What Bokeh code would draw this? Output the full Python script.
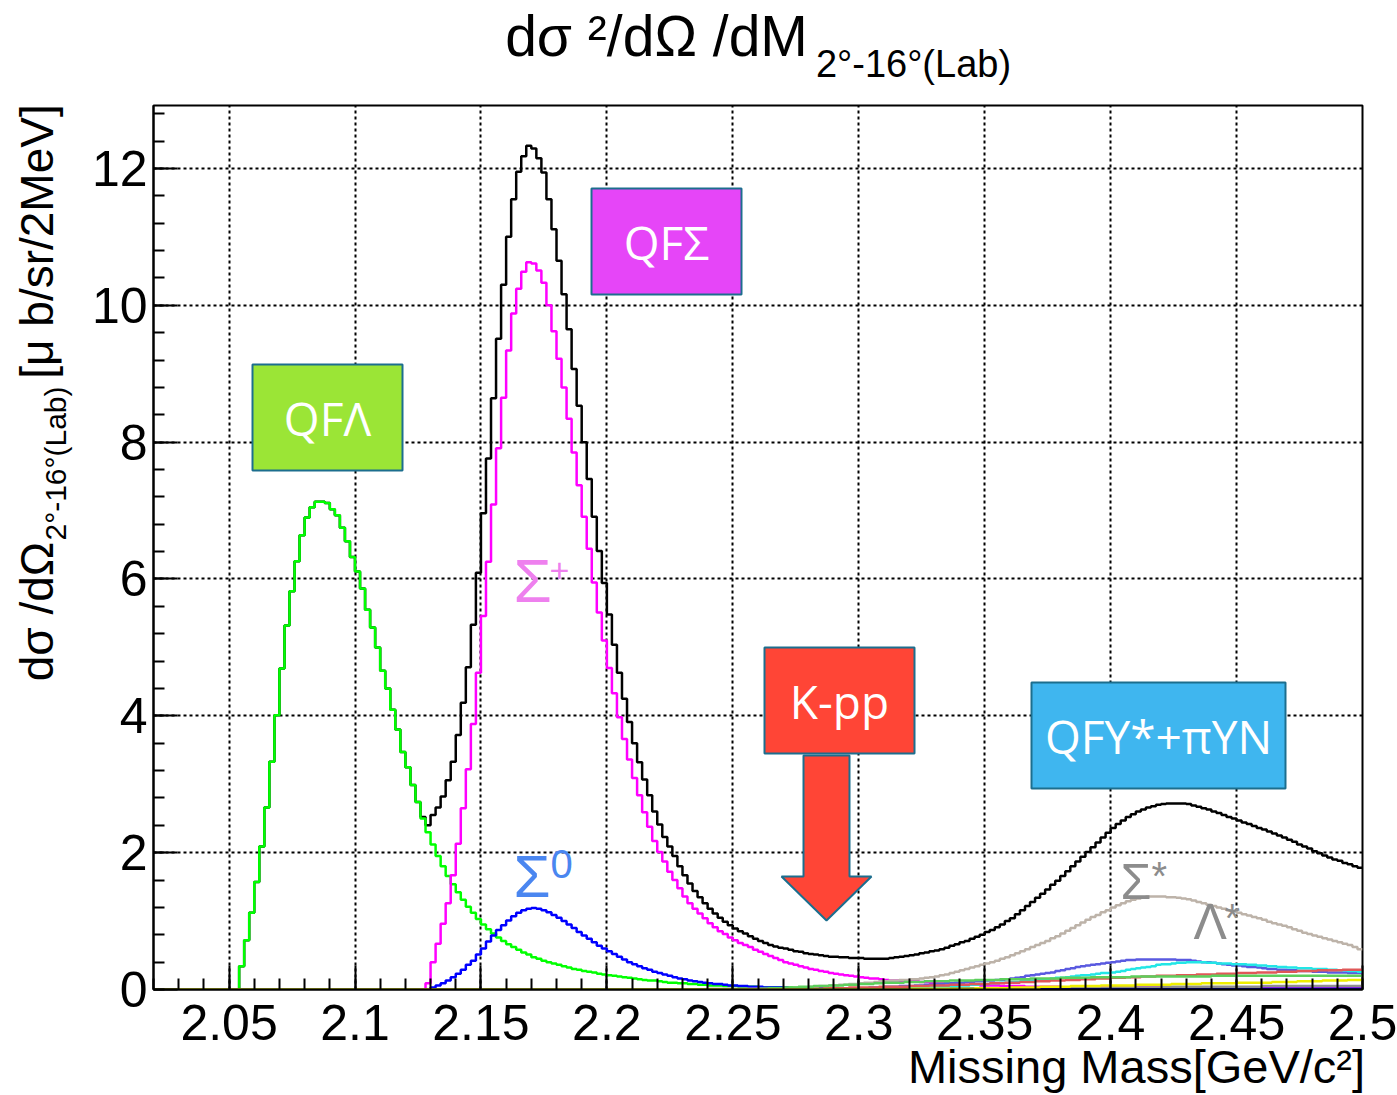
import numpy as np
from bokeh.plotting import figure
from bokeh.models import (Label, Range1d, FixedTicker, BoxAnnotation, NumeralTickFormatter,
                          LinearAxis, CustomJSTickFormatter)
from bokeh.embed import file_html
from bokeh.resources import INLINE

# ---------------- data (2 MeV bins from 2.020 to 2.500 GeV/c^2) ----------------
x_lo, x_hi, bin_w, n_bins = 2.02, 2.50, 0.002, 240
y_lo, y_hi = 0.0, 12.92

x_major = [2.05, 2.1, 2.15, 2.2, 2.25, 2.3, 2.35, 2.4, 2.45, 2.5]
y_major = [0, 2, 4, 6, 8, 10, 12]

total = ([0.0] * 10 +
         [0, 0, 0, 0, 0, 0, 0, 0.34, 0.72, 1.12] +
         [1.57, 2.09, 2.66, 3.33, 4.01, 4.69, 5.32, 5.82, 6.26, 6.64] +
         [6.90, 7.05, 7.13, 7.13, 7.11, 7.02, 6.93, 6.75, 6.55, 6.32] +
         [6.11, 5.86, 5.55, 5.29, 5.00, 4.66, 4.40, 4.09, 3.80, 3.47] +
         [3.25, 2.99, 2.74, 2.52, 2.40, 2.55, 2.66, 2.82, 3.06, 3.33] +
         [3.72, 4.19, 4.71, 5.33, 6.09, 6.96, 7.76, 8.64, 9.51, 10.30] +
         [11.00, 11.55, 11.95, 12.18, 12.33, 12.29, 12.15, 11.94, 11.55, 11.11] +
         [10.65, 10.16, 9.65, 9.07, 8.53, 8.00, 7.46, 6.91, 6.41, 5.94] +
         [5.48, 5.04, 4.63, 4.25, 3.91, 3.60, 3.32, 3.07, 2.84, 2.60] +
         [2.41, 2.23, 2.09, 1.95, 1.80, 1.67, 1.55, 1.44, 1.35, 1.26] +
         [1.18, 1.11, 1.05, 0.99, 0.94, 0.89, 0.85, 0.82, 0.78, 0.74] +
         [0.71, 0.68, 0.65, 0.63, 0.61, 0.60, 0.58, 0.56, 0.55, 0.53] +
         [0.52, 0.51, 0.50, 0.49, 0.48, 0.48, 0.47, 0.47, 0.46, 0.46] +
         [0.46, 0.45, 0.45, 0.45, 0.45, 0.45, 0.46, 0.47, 0.48, 0.49] +
         [0.50, 0.51, 0.53, 0.54, 0.56, 0.57, 0.59, 0.61, 0.64, 0.66] +
         [0.69, 0.71, 0.74, 0.77, 0.80, 0.84, 0.87, 0.91, 0.95, 1.00] +
         [1.04, 1.10, 1.16, 1.22, 1.28, 1.34, 1.40, 1.46, 1.53, 1.59] +
         [1.66, 1.73, 1.80, 1.87, 1.94, 2.01, 2.08, 2.15, 2.22, 2.29] +
         [2.36, 2.42, 2.47, 2.52, 2.56, 2.60, 2.63, 2.66, 2.68, 2.70] +
         [2.71, 2.72, 2.72, 2.72, 2.72, 2.71, 2.69, 2.67, 2.65, 2.63] +
         [2.60, 2.58, 2.55, 2.52, 2.50, 2.47, 2.44, 2.42, 2.39, 2.36] +
         [2.34, 2.31, 2.28, 2.25, 2.22, 2.19, 2.16, 2.12, 2.09, 2.06] +
         [2.02, 1.99, 1.96, 1.93, 1.90, 1.88, 1.85, 1.83, 1.80, 1.78])

qf_lambda = ([0.0] * 10 +
             [0, 0, 0, 0, 0, 0, 0, 0.34, 0.72, 1.12] +
             [1.57, 2.09, 2.66, 3.33, 4.01, 4.69, 5.32, 5.82, 6.26, 6.64] +
             [6.90, 7.05, 7.13, 7.13, 7.11, 7.02, 6.93, 6.75, 6.55, 6.32] +
             [6.11, 5.86, 5.55, 5.29, 5.00, 4.66, 4.40, 4.09, 3.80, 3.47] +
             [3.25, 2.99, 2.74, 2.50, 2.30, 2.12, 1.95, 1.80, 1.66, 1.54] +
             [1.42, 1.31, 1.21, 1.12, 1.03, 0.95, 0.88, 0.82, 0.76, 0.71] +
             [0.66, 0.62, 0.58, 0.54, 0.51, 0.47, 0.45, 0.42, 0.40, 0.38] +
             [0.36, 0.34, 0.32, 0.30, 0.29, 0.27, 0.26, 0.25, 0.23, 0.22] +
             [0.21, 0.20, 0.19, 0.18, 0.17, 0.16, 0.15, 0.14, 0.13, 0.13] +
             [0.12, 0.11, 0.10, 0.10, 0.09, 0.09, 0.08, 0.08, 0.07, 0.07] +
             [0.06, 0.06, 0.06, 0.05, 0.05, 0.05, 0.04, 0.04, 0.04, 0.04] +
             [0.03] * 10 + [0.02] * 20 + [0.01] * 90)

sigma_plus = ([0.0] * 50 +
              [0, 0, 0, 0, 0.09, 0.40, 0.67, 0.96, 1.26, 1.67] +
              [2.13, 2.65, 3.22, 3.88, 4.63, 5.46, 6.25, 7.09, 7.91, 8.65] +
              [9.34, 9.88, 10.24, 10.49, 10.63, 10.61, 10.51, 10.33, 10.00, 9.62] +
              [9.22, 8.80, 8.34, 7.85, 7.37, 6.91, 6.44, 5.95, 5.51, 5.10] +
              [4.70, 4.33, 3.98, 3.66, 3.36, 3.09, 2.84, 2.59, 2.38, 2.17] +
              [2.01, 1.87, 1.72, 1.60, 1.48, 1.36, 1.26, 1.18, 1.11, 1.04] +
              [0.97, 0.91, 0.85, 0.81, 0.76, 0.72, 0.68, 0.65, 0.62, 0.58] +
              [0.55, 0.52, 0.49, 0.46, 0.43, 0.40, 0.38, 0.36, 0.34, 0.32] +
              [0.30, 0.29, 0.27, 0.26, 0.24, 0.23, 0.22, 0.21, 0.20, 0.19] +
              [0.18, 0.17, 0.16, 0.16, 0.15, 0.14, 0.13, 0.13, 0.12, 0.12] +
              [0.12, 0.12, 0.11, 0.11, 0.10, 0.10, 0.09, 0.09, 0.08, 0.08] +
              [0.08, 0.07, 0.07, 0.07, 0.06, 0.06, 0.06, 0.06, 0.05, 0.05] +
              [0.05, 0.05, 0.05, 0.04, 0.04, 0.04, 0.04, 0.04, 0.04, 0.04] +
              [0.03] * 20 + [0.02] * 40)

sigma_zero = ([0.0] * 50 +
              [0, 0, 0, 0, 0, 0.03, 0.06, 0.09, 0.13, 0.18] +
              [0.23, 0.29, 0.36, 0.42, 0.51, 0.60, 0.70, 0.79, 0.87, 0.94] +
              [1.01, 1.07, 1.12, 1.16, 1.18, 1.19, 1.18, 1.16, 1.13, 1.09] +
              [1.05, 1.00, 0.95, 0.90, 0.84, 0.79, 0.74, 0.69, 0.64, 0.60] +
              [0.56, 0.52, 0.48, 0.44, 0.40, 0.37, 0.34, 0.31, 0.29, 0.26] +
              [0.24, 0.22, 0.20, 0.18, 0.16, 0.15, 0.13, 0.12, 0.11, 0.10] +
              [0.09, 0.08, 0.08, 0.07, 0.06, 0.06, 0.05, 0.05, 0.04, 0.04] +
              [0.04, 0.03, 0.03, 0.03, 0.03, 0.03, 0.02, 0.02, 0.02, 0.02] +
              [0.02] * 10 + [0.01] * 100)

sigma_lambda_star = ([0.0] * 110 + [0.01] * 10 +
                     [0.01, 0.01, 0.01, 0.01, 0.01, 0.02, 0.02, 0.03, 0.03, 0.03] +
                     [0.04, 0.04, 0.05, 0.05, 0.06, 0.06, 0.07, 0.07, 0.08, 0.08] +
                     [0.09, 0.10, 0.10, 0.11, 0.12, 0.12, 0.13, 0.13, 0.14, 0.14] +
                     [0.15, 0.15, 0.16, 0.17, 0.18, 0.19, 0.21, 0.22, 0.24, 0.26] +
                     [0.28, 0.30, 0.32, 0.34, 0.36, 0.38, 0.40, 0.42, 0.45, 0.47] +
                     [0.50, 0.53, 0.56, 0.59, 0.62, 0.65, 0.68, 0.71, 0.75, 0.78] +
                     [0.82, 0.86, 0.90, 0.94, 0.98, 1.02, 1.06, 1.09, 1.13, 1.16] +
                     [1.20, 1.23, 1.26, 1.29, 1.31, 1.33, 1.35, 1.36, 1.36, 1.36] +
                     [1.36, 1.35, 1.35, 1.34, 1.33, 1.32, 1.30, 1.28, 1.26, 1.24] +
                     [1.22, 1.20, 1.18, 1.16, 1.14, 1.12, 1.10, 1.08, 1.06, 1.04] +
                     [1.02, 0.99, 0.97, 0.95, 0.93, 0.91, 0.88, 0.86, 0.83, 0.81] +
                     [0.79, 0.77, 0.75, 0.73, 0.71, 0.69, 0.67, 0.65, 0.62, 0.59])

pi_yn_violet = ([0.0] * 140 +
                [0.02, 0.02, 0.03, 0.03, 0.03, 0.04, 0.04, 0.04, 0.05, 0.05] +
                [0.05, 0.06, 0.06, 0.07, 0.07, 0.08, 0.08, 0.09, 0.09, 0.10] +
                [0.10, 0.11, 0.11, 0.12, 0.12, 0.13, 0.13, 0.14, 0.14, 0.15] +
                [0.16, 0.17, 0.18, 0.20, 0.21, 0.22, 0.23, 0.24, 0.25, 0.27] +
                [0.28, 0.30, 0.31, 0.33, 0.34, 0.35, 0.36, 0.37, 0.38, 0.39] +
                [0.40, 0.41, 0.42, 0.43, 0.43, 0.44, 0.44, 0.44, 0.44, 0.44] +
                [0.44, 0.44, 0.44, 0.43, 0.43, 0.43, 0.42, 0.41, 0.40, 0.40] +
                [0.39, 0.38, 0.37, 0.36, 0.35, 0.35, 0.34, 0.33, 0.33, 0.32] +
                [0.31, 0.30, 0.30, 0.29, 0.29, 0.28, 0.28, 0.27, 0.27, 0.27] +
                [0.26, 0.26, 0.26, 0.25, 0.25, 0.25, 0.25, 0.24, 0.24, 0.24])

pi_yn_cyan = ([0.0] * 150 +
              [0.02, 0.02, 0.03, 0.03, 0.03, 0.04, 0.04, 0.04, 0.05, 0.05] +
              [0.06, 0.06, 0.07, 0.07, 0.08, 0.08, 0.09, 0.09, 0.10, 0.10] +
              [0.11, 0.11, 0.12, 0.12, 0.13, 0.14, 0.14, 0.15, 0.16, 0.17] +
              [0.17, 0.18, 0.19, 0.20, 0.21, 0.21, 0.22, 0.23, 0.24, 0.24] +
              [0.25, 0.26, 0.27, 0.29, 0.30, 0.31, 0.32, 0.33, 0.34, 0.36] +
              [0.37, 0.37, 0.38, 0.39, 0.39, 0.40, 0.40, 0.40, 0.40, 0.39] +
              [0.39, 0.38, 0.38, 0.38, 0.37, 0.37, 0.37, 0.36, 0.36, 0.35] +
              [0.35, 0.34, 0.34, 0.33, 0.33, 0.32, 0.32, 0.31, 0.31, 0.31] +
              [0.30, 0.30, 0.30, 0.29, 0.29, 0.28, 0.28, 0.27, 0.27, 0.26])

pi_yn_red = ([0.0] * 130 +
             [0.01, 0.01, 0.01, 0.02, 0.02, 0.02, 0.02, 0.02, 0.03, 0.03] +
             [0.03, 0.03, 0.03, 0.03, 0.04, 0.04, 0.04, 0.04, 0.04, 0.04] +
             [0.05, 0.05, 0.05, 0.05, 0.06, 0.06, 0.06, 0.06, 0.07, 0.07] +
             [0.07, 0.07, 0.08, 0.08, 0.08, 0.08, 0.09, 0.09, 0.09, 0.10] +
             [0.10, 0.10, 0.11, 0.11, 0.11, 0.12, 0.12, 0.12, 0.13, 0.13] +
             [0.13, 0.14, 0.14, 0.14, 0.15, 0.15, 0.15, 0.16, 0.16, 0.16] +
             [0.17, 0.17, 0.17, 0.18, 0.18, 0.18, 0.19, 0.19, 0.19, 0.20] +
             [0.20, 0.20, 0.20, 0.21, 0.21, 0.21, 0.21, 0.22, 0.22, 0.22] +
             [0.22, 0.23, 0.23, 0.23, 0.23, 0.24, 0.24, 0.24, 0.24, 0.25] +
             [0.25, 0.25, 0.25, 0.26, 0.26, 0.26, 0.26, 0.27, 0.27, 0.27] +
             [0.27, 0.28, 0.28, 0.28, 0.28, 0.28, 0.29, 0.29, 0.29, 0.29])

pi_yn_green = ([0.0] * 120 +
               [0.01, 0.01, 0.02, 0.02, 0.02, 0.03, 0.03, 0.03, 0.04, 0.04] +
               [0.04, 0.05, 0.05, 0.05, 0.06, 0.06, 0.06, 0.07, 0.07, 0.07] +
               [0.08, 0.08, 0.08, 0.09, 0.09, 0.10, 0.10, 0.10, 0.10, 0.11] +
               [0.11, 0.11, 0.11, 0.12, 0.12, 0.12, 0.12, 0.12, 0.13, 0.13] +
               [0.13, 0.13, 0.13, 0.14, 0.14, 0.14, 0.14, 0.14, 0.15, 0.15] +
               [0.15, 0.15, 0.15, 0.15, 0.16, 0.16, 0.16, 0.16, 0.16, 0.16] +
               [0.17, 0.17, 0.17, 0.17, 0.17, 0.17, 0.18, 0.18, 0.18, 0.18] +
               [0.18, 0.18, 0.18, 0.18, 0.19, 0.19, 0.19, 0.19, 0.19, 0.19] +
               [0.19] * 10 + [0.20] * 30)

pi_yn_gray = [0.0] * 170 + [0.01] * 10 + [0.02] * 10 + [0.03] * 10 + [0.04] * 20 + [0.05] * 20

pi_yn_navy = [0.0] * 150 + [0.005] * 90

pi_yn_yellow = ([0.0] * 150 + [0.01] * 10 +
                [0.01, 0.01, 0.01, 0.02, 0.02, 0.02, 0.02, 0.02, 0.02, 0.02] +
                [0.03, 0.03, 0.03, 0.03, 0.03, 0.03, 0.04, 0.04, 0.04, 0.04] +
                [0.04, 0.04, 0.05, 0.05, 0.05, 0.05, 0.05, 0.05, 0.06, 0.06] +
                [0.06, 0.06, 0.06, 0.06, 0.06, 0.07, 0.07, 0.07, 0.07, 0.07] +
                [0.07, 0.07, 0.08, 0.08, 0.08, 0.08, 0.08, 0.08, 0.09, 0.09] +
                [0.09, 0.09, 0.09, 0.09, 0.09, 0.10, 0.10, 0.10, 0.10, 0.10] +
                [0.10, 0.10, 0.11, 0.11, 0.11, 0.11, 0.11, 0.12, 0.12, 0.12] +
                [0.12, 0.12, 0.13, 0.13, 0.13, 0.13, 0.13, 0.14, 0.14, 0.14])

# draw order and colours
series = [
    (total, "#000000"),
    (qf_lambda, "#00ff00"),
    (sigma_plus, "#ff00ff"),
    (sigma_zero, "#0000ff"),
    (sigma_lambda_star, "#bdb3a9"),
    (pi_yn_violet, "#5a5ae0"),
    (pi_yn_cyan, "#22e6e6"),
    (pi_yn_red, "#e05858"),
    (pi_yn_green, "#5ccf5c"),
    (pi_yn_gray, "#8f8f8f"),
    (pi_yn_navy, "#000090"),
    (pi_yn_yellow, "#eeee00"),
]

# ---------------- layout ----------------
FL, FT, FW, FH = 153, 105, 1209, 884   # frame placement inside the canvas
W, H = 1397, 1095
PX0, PY0 = FL, FT


def px2x(px):
    return x_lo + (px - PX0) / FW * (x_hi - x_lo)


def py2y(py):
    return y_lo + (PY0 + FH - py) / FH * (y_hi - y_lo)


p = figure(width=W, height=H, output_backend="svg", toolbar_location=None, title=None,
           x_range=Range1d(x_lo, x_hi), y_range=Range1d(y_lo, y_hi),
           min_border_left=FL, min_border_top=FT,
           min_border_right=W - FL - FW, min_border_bottom=H - FT - FH)
p.background_fill_color = "white"
p.border_fill_color = "white"
p.outline_line_color = "black"
p.outline_line_width = 2

edges = x_lo + bin_w * np.arange(n_bins + 1)
for vals, col in series:
    yv = list(vals) + [vals[-1]]
    p.step(edges, yv, mode="after", line_color=col, line_width=2.5)

# axes
HF = "Liberation Sans"
xt = FixedTicker(ticks=x_major, minor_ticks=list(np.round(np.arange(x_lo, x_hi + 1e-9, 0.01), 2)))
yt = FixedTicker(ticks=y_major, minor_ticks=list(np.round(np.arange(y_lo, y_hi, 0.4), 1)))
p.xaxis.ticker = xt
p.yaxis.ticker = yt
p.xgrid.ticker = FixedTicker(ticks=x_major)
p.ygrid.ticker = FixedTicker(ticks=y_major)
p.xaxis.formatter = NumeralTickFormatter(format="0.0[0]")
for ax in (p.xaxis[0], p.yaxis[0]):
    ax.major_tick_in = 24
    ax.major_tick_out = 0
    ax.minor_tick_in = 11
    ax.minor_tick_out = 0
    ax.major_tick_line_width = 2
    ax.minor_tick_line_width = 2
    ax.major_tick_line_color = "black"
    ax.minor_tick_line_color = "black"
    ax.axis_line_width = 2
    ax.axis_line_color = "black"
    ax.major_label_text_font = HF
    ax.major_label_text_font_size = "50px"
    ax.major_label_text_color = "black"
    ax.major_label_standoff = 6
p.xaxis[0].major_label_standoff = 15
for g in (p.xgrid[0], p.ygrid[0]):
    g.grid_line_color = "black"
    g.grid_line_dash = "3 3"
    g.grid_line_width = 2


# ---------------- title and axis titles: text-only axes in the side panels ----------------
def text_axis(where, ticks, code, size, standoff, orientation=None):
    ax = LinearAxis(ticker=FixedTicker(ticks=ticks, minor_ticks=[]),
                    formatter=CustomJSTickFormatter(code=code),
                    axis_line_color=None, major_tick_line_color=None, minor_tick_line_color=None,
                    major_tick_in=0, major_tick_out=0, minor_tick_in=0, minor_tick_out=0,
                    major_label_standoff=standoff, major_label_text_font=HF,
                    major_label_text_font_size=size, major_label_text_color="black")
    if orientation is not None:
        ax.major_label_orientation = orientation
    p.add_layout(ax, where)


# title: subscript layer (closest to frame) then main text
text_axis("above", [px2x(913)], 'return "2°-16°(Lab)";', "38px", 21)
text_axis("above", [px2x(656)], 'return "dσ ²/dΩ /dM";', "57px", -28)
# y title: subscript layer then the two main pieces
text_axis("left", [py2y(463)], 'return "2°-16°(Lab)";', "30px", 17, "vertical")
text_axis("left", [py2y(611), py2y(241)],
          'return tick > 8 ? "[μ b/sr/2MeV]" : "dσ /dΩ";', "46px", -27, "vertical")
# x title
text_axis("below", [px2x(1136)], 'return "Missing Mass[GeV/c²]";', "47px", -3)

# ---------------- boxes ----------------
BORDER = "#1c6e8e"
boxes = [
    ((252, 402, 364, 470), "#9be536", "QFΛ"),
    ((591, 741, 188, 294), "#e645f8", "QFΣ"),
    ((764, 914, 647, 753), "#ff4536", "K-pp"),
    ((1031, 1285, 682, 788), "#3fb6ef", "QFY*+πYN"),
]
for (l, r, t, b), col, txt in boxes:
    p.add_layout(BoxAnnotation(left=px2x(l), right=px2x(r), top=py2y(t), bottom=py2y(b),
                               fill_color=col, fill_alpha=1.0, line_color=BORDER,
                               line_width=2, line_alpha=1.0))
    p.add_layout(Label(x=px2x((l + r) / 2), y=py2y((t + b) / 2), text=txt,
                       text_font="Open Sans", text_font_size="46px", text_color="white",
                       text_align="center", text_baseline="middle"))

# arrow under K-pp
arrow_px = [803, 849, 849, 871, 826, 781, 803]
arrow_py = [755, 755, 876, 876, 920, 876, 876]
p.patch([px2x(v) for v in arrow_px], [py2y(v) for v in arrow_py],
        fill_color="#ff4536", line_color=BORDER, line_width=2)


# ---------------- component labels ----------------
def lab(px, py, txt, size, col):
    p.add_layout(Label(x=px2x(px), y=py2y(py), text=txt, text_font=HF,
                       text_font_size=f"{size}px", text_color=col,
                       text_baseline="alphabetic"))


lab(513, 580, "Σ", 62, "#ee80ee")
lab(549, 570, "+", 34, "#ee80ee")
lab(513, 876, "Σ", 60, "#4a86f0")
lab(550, 863, "0", 40, "#4a86f0")
lab(1120, 881, "Σ", 50, "#8c8c8c")
lab(1151, 875, "*", 40, "#8c8c8c")
lab(1193, 921, "Λ", 50, "#8c8c8c")
lab(1224, 917, "*", 40, "#8c8c8c")

open("out.html", "w").write(file_html(p, INLINE))
